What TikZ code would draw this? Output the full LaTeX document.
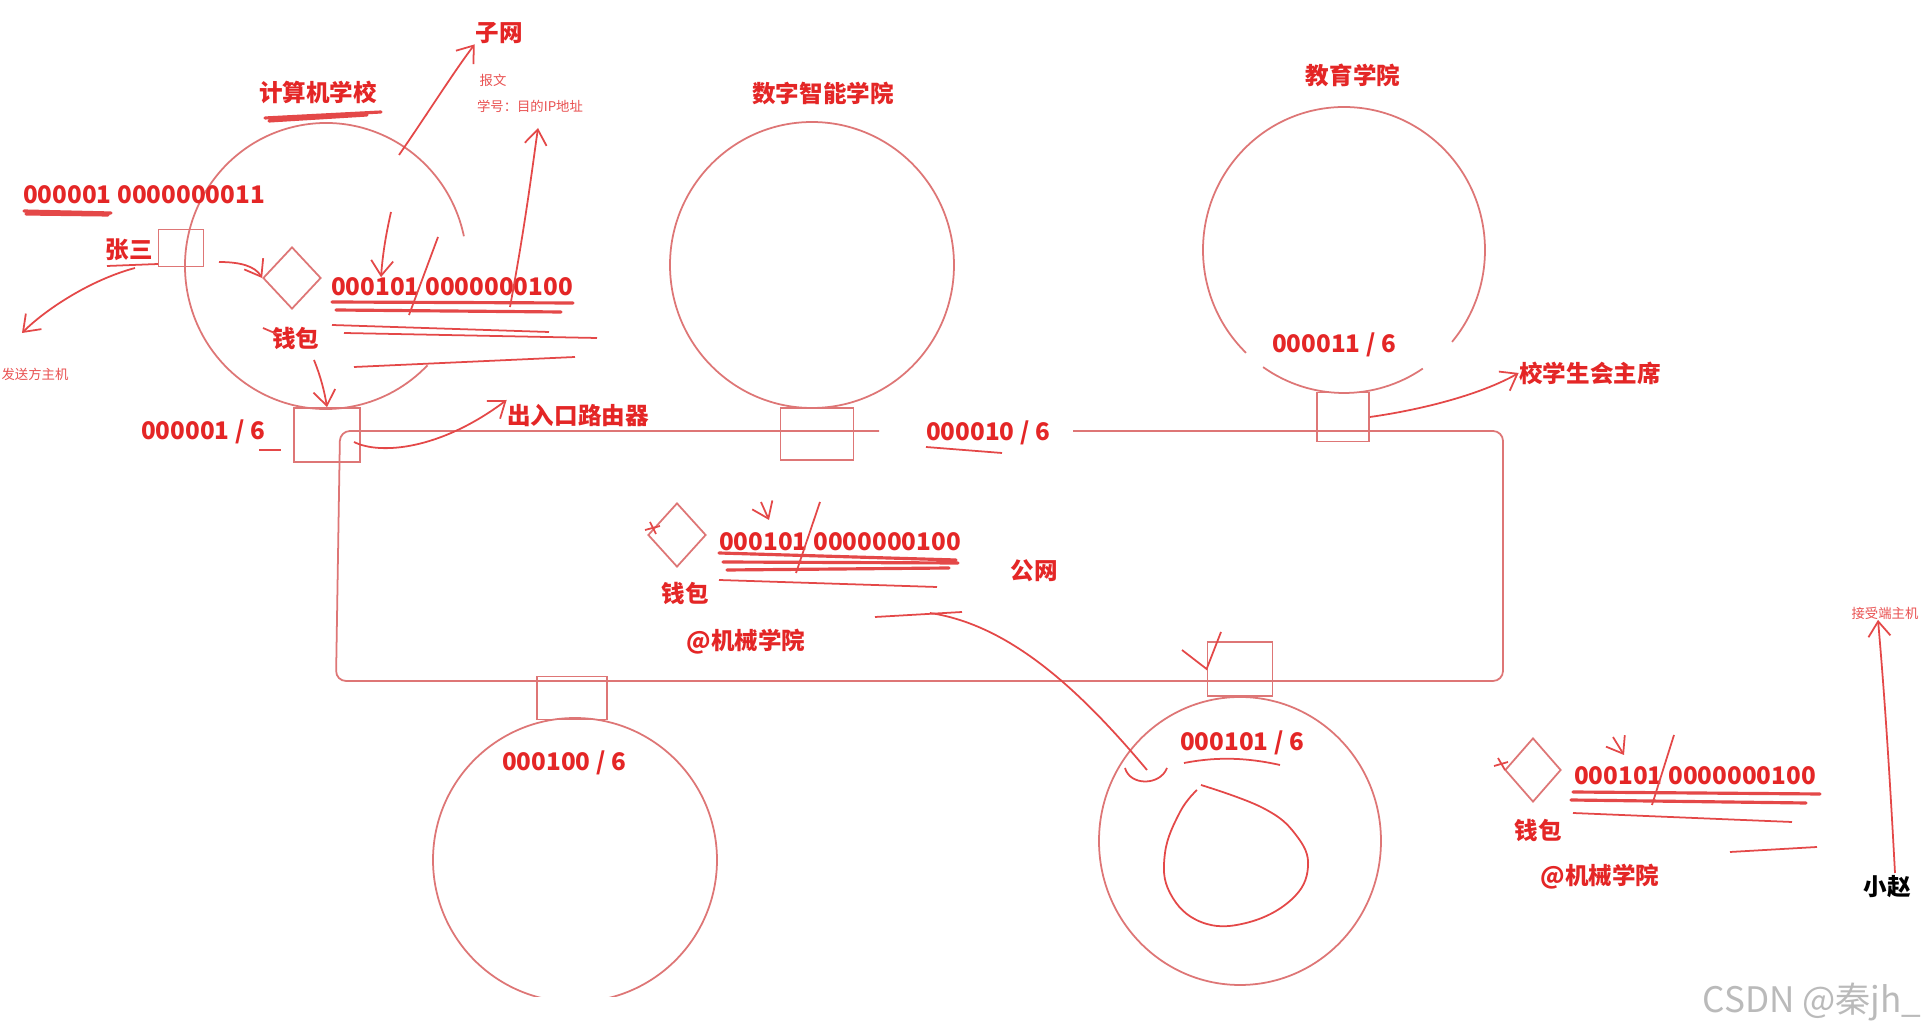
\documentclass[tikz,border=0pt]{standalone}
\usepackage{fontspec}
\setmainfont{Noto Sans CJK SC}
\usetikzlibrary{arrows.meta,shapes.geometric}
\definecolor{pred}{RGB}{228,38,38}
\definecolor{pline}{RGB}{222,118,118}
\definecolor{pmark}{RGB}{228,72,72}
\definecolor{wmgray}{RGB}{186,186,186}
\tikzset{
  lab/.style={font=\bfseries\fontsize{6.7}{7}\selectfont, text=pred, inner sep=0pt},
  num/.style={font=\bfseries\fontsize{6.9}{8}\selectfont, text=pred, inner sep=0pt},
  note/.style={font=\fontsize{3.8}{4}\selectfont, text=pred!80, inner sep=0pt},
  net/.style={draw=pline, line width=0.5pt},
  rtr/.style={net, rectangle, inner sep=0pt},
  wal/.style={net, diamond, inner sep=0pt, minimum width=5.8mm, minimum height=6.2mm},
  ink/.style={pmark, line width=0.5pt},
  inka/.style={ink, -{Straight Barb[length=1.5mm,width=2.2mm]}},
  scrib/.style={pmark, line width=0.9pt, line cap=round},
}
\begin{document}
\begin{tikzpicture}[x=0.1mm,y=-0.1mm]
\useasboundingbox[fill=white] (0,0) rectangle (1928,1033);

% subnets
\draw[net] (326,266) ++(12:14.1mm and 14.3mm) arc[start angle=12,end angle=316,x radius=14.1mm,y radius=14.3mm];
\draw[net] (812,265) ellipse[x radius=14.2mm,y radius=14.3mm];
\draw[net] (1344,250) ++(320:14.1mm and 14.3mm) arc[start angle=320,end angle=586,x radius=14.1mm,y radius=14.3mm];
\draw[net] (1344,250) ++(235:14.1mm and 14.3mm) arc[start angle=235,end angle=304,x radius=14.1mm,y radius=14.3mm];
\begin{scope}
  \clip (0,0) rectangle (1928,997);
  \draw[net] (575,860) ellipse[x radius=14.2mm,y radius=14.2mm];
\end{scope}
\draw[net] (1240,841) ellipse[x radius=14.1mm,y radius=14.4mm];
\draw[ink] plot[smooth, tension=0.7] coordinates {(1201,785) (1263,808) (1296,835) (1308,867) (1291,900) (1246,923) (1201,922) (1170,893) (1165,853) (1180,812) (1197,790)};

% public net
\draw[net, rounded corners=1mm] (879,431) -- (340,431) -- (336,681) -- (1503,681) -- (1503,431) -- (1073,431);

% routers
\node[rtr, minimum width=4.5mm, minimum height=3.7mm] (host) at (181,248) {};
\node[rtr, minimum width=6.6mm, minimum height=5.4mm] (r1) at (327,435) {};
\node[rtr, minimum width=7.3mm, minimum height=5.2mm] (r2) at (817,434) {};
\node[rtr, minimum width=5.2mm, minimum height=4.9mm] (r3) at (1343,417) {};
\node[rtr, minimum width=7.0mm, minimum height=4.3mm] (r4) at (572,698) {};
\node[rtr, minimum width=6.5mm, minimum height=5.4mm] (r5) at (1240,669) {};

% wallets
\node[wal] (w1) at (292,278) {};
\node[wal, minimum height=6.4mm] (w2) at (677,535) {};
\node[wal, minimum width=5.6mm, minimum height=6.4mm] (w3) at (1533,770) {};

% labels
\node[lab] (n1) at (318,92) {计算机学校};
\node[lab] (n2) at (823,93) {数字智能学院};
\node[lab] (n3) at (1353,75) {教育学院};
\node[lab] (sub) at (499,33) {子网};
\node[note] (msg) at (493,80) {报文};
\node[note] (sid) at (530,106) {学号：目的IP地址};
\node[num] (ipa) at (144,195) {000001 0000000011};
\node[lab] (zs) at (129,250) {张三};
\node[num] (ipb1) at (452,287) {000101 0000000100};
\node[lab] (wl1) at (296,338) {钱包};
\node[note] (snd) at (35,374) {发送方主机};
\node[num] (m1) at (203,432) {000001 / 6};
\node[lab] (gw) at (578,416) {出入口路由器};
\node[num] (m2) at (988,433) {000010 / 6};
\node[num] (m3) at (1334,345) {000011 / 6};
\node[lab] (pres) at (1590,373) {校学生会主席};
\node[num] (ipb2) at (840,542) {000101 0000000100};
\node[lab] (pub) at (1034,571) {公网};
\node[lab] (wl2) at (685,593) {钱包};
\node[lab] (at2) at (746,642) {@机械学院};
\node[num] (m4) at (564,763) {000100 / 6};
\node[num] (m5) at (1242,743) {000101 / 6};
\node[num] (ipb3) at (1695,776) {000101 0000000100};
\node[lab] (wl3) at (1538,830) {钱包};
\node[lab] (at3) at (1600,877) {@机械学院};
\node[lab, text=black] (xz) at (1887,887) {小赵};
\node[note] (rcv) at (1885,613) {接受端主机};
\node[font=\fontsize{10}{11}\selectfont, text=wmgray, inner sep=0pt] (wm) at (1812,1002) {CSDN @秦jh\_};

% free ends
\coordinate (c1) at (399,155);
\coordinate (c2) at (510,307);
\coordinate (c3) at (22,333);
\coordinate (c4) at (391,212);
\coordinate (c5) at (1895,873);
\coordinate (c6) at (538,128);

% scribbles in the subnet
\draw[inka] (c1) .. controls (430,110) and (455,70) .. (sub.south west);
\draw[inka] (c2) .. controls (526,220) and (532,170) .. (c6);
\draw[scrib] (265,118) -- (381,112) (269,121) -- (367,115);
\draw[scrib] (24,211) -- (111,213) (26,214) -- (108,215);
\draw[ink] (107,266) -- (158,264);
\draw[inka] (135,268) .. controls (90,280) and (45,310) .. (c3);
\draw[inka] (219,262) .. controls (240,262) and (255,266) .. (w1.west);
\draw[inka] (c4) .. controls (387,230) and (383,250) .. (ipb1.north west -| 381,0);
\draw[ink] (438,237) -- (409,315);
\draw[scrib] (332,302) -- (573,303) (336,310) -- (561,312);
\draw[ink] (332,325) -- (549,332) (344,333) -- (597,338) (354,367) -- (575,357);
\draw[ink] (263,328) -- (277,334);
\draw[inka] (314,360) .. controls (322,380) and (325,395) .. (r1.north);
\draw[ink] (259,450) -- (281,450);
\draw[inka] (354,442) .. controls (380,455) and (440,450) .. (gw.west |- 0,400);
\draw[ink] (926,447) -- (1002,453);
\draw[inka] (r3.east) .. controls (1420,410) and (1480,395) .. (pres.west);

% scribbles in the public net
\draw[ink] (650,522) -- (656,534) (645,530) -- (660,526);
\draw[inka] (761,502) -- (769,520);
\draw[ink] (820,502) -- (796,573);
\draw[scrib] (719,553) -- (956,560) (723,562) -- (958,563) (727,570) -- (949,568);
\draw[ink] (719,580) -- (937,587);
\draw[ink] (875,617) -- (962,612);
\draw[ink] (930,613) .. controls (1010,625) and (1080,690) .. (1147,770);
\draw[ink] (1125,768) .. controls (1130,786) and (1160,786) .. (1167,768);
\draw[ink] (1182,650) -- (r5.west) -- (1221,632);
\draw[ink] (1184,763) .. controls (1210,758) and (1240,756) .. (1280,765);

% scribbles at the receiver
\draw[ink] (1498,758) -- (1505,770) (1494,766) -- (1508,762);
\draw[inka] (1613,737) -- (1624,755);
\draw[ink] (1674,735) -- (1652,805);
\draw[scrib] (1573,792) -- (1820,794) (1571,800) -- (1806,803);
\draw[ink] (1573,813) -- (1792,822) (1730,852) -- (1817,847);
\draw[inka] (c5) .. controls (1890,780) and (1885,700) .. (rcv.south -| 1878,0);
\end{tikzpicture}
\end{document}
